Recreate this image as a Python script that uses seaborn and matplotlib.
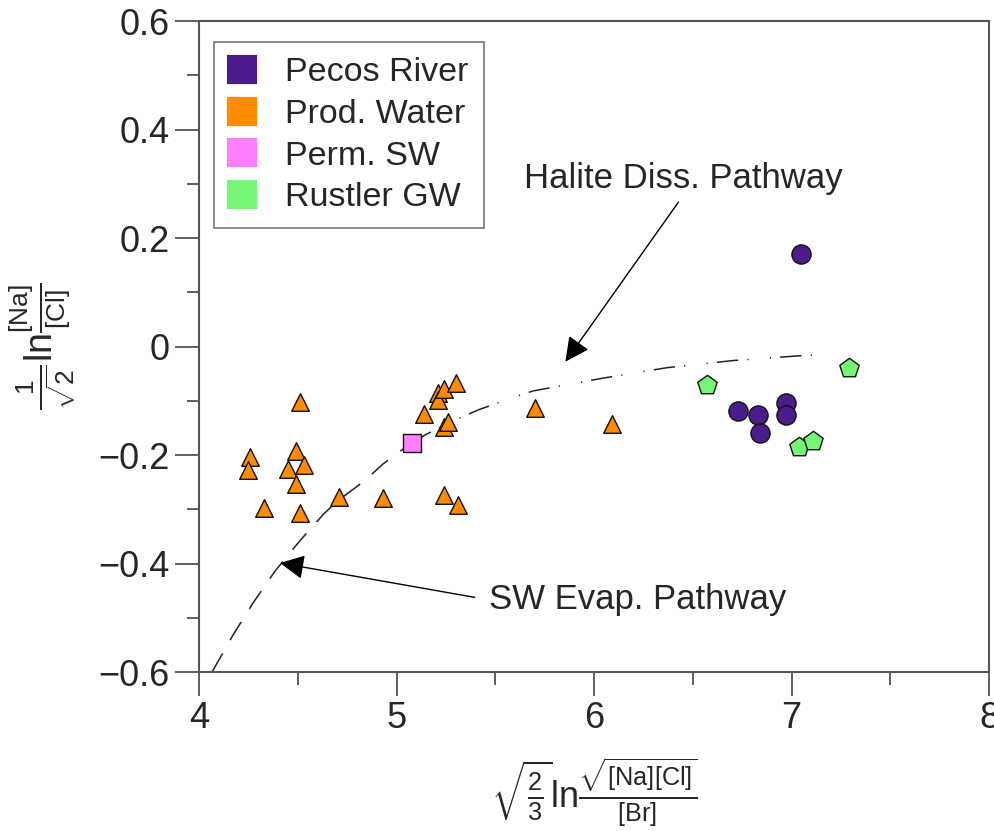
import numpy as np
import pandas as pd
import matplotlib
matplotlib.use("Agg")
import matplotlib.pyplot as plt
import matplotlib.patches as mpatches
import seaborn as sns

# Dati
pecos_x = [7.05, 6.73, 6.83, 6.84, 6.97, 6.97]
pecos_y = [0.170, -0.118, -0.126, -0.159, -0.105, -0.126]

prod_x = [4.51, 4.26, 4.25, 4.49, 4.45, 4.53, 4.49, 4.33, 4.51, 4.71, 4.93, 5.24, 5.31,
          5.14, 5.24, 5.26, 5.21, 5.21, 5.24, 5.30, 5.70, 6.09]
prod_y = [-0.102, -0.203, -0.227, -0.192, -0.225, -0.218, -0.253, -0.297, -0.306, -0.277,
          -0.279, -0.273, -0.292, -0.124, -0.148, -0.140, -0.085, -0.098, -0.079, -0.068,
          -0.114, -0.142]

perm_x = [5.08]
perm_y = [-0.177]

rustler_x = [6.57, 7.29, 7.04, 7.11]
rustler_y = [-0.070, -0.039, -0.185, -0.175]

# percorsi (curve)
evap_x = [4.066, 4.172, 4.273, 4.385, 4.511, 4.628, 4.70, 4.84, 4.93, 5.03, 5.08]
evap_y = [-0.600, -0.532, -0.473, -0.414, -0.358, -0.310, -0.285, -0.247, -0.217, -0.190, -0.177]
diss_x = [5.08, 5.15, 5.31, 5.42, 5.59, 5.69, 6.05, 6.37, 6.70, 7.08, 7.13]
diss_y = [-0.177, -0.162, -0.133, -0.116, -0.094, -0.082, -0.058, -0.039, -0.026, -0.016, -0.015]

groups = ["Pecos River", "Prod. Water", "Perm. SW", "Rustler GW"]
colors = {"Pecos River": "#4B1C8C", "Prod. Water": "#FF8C00",
          "Perm. SW": "#FF80FF", "Rustler GW": "#77F577"}
markers = {"Pecos River": "o", "Prod. Water": "^", "Perm. SW": "s", "Rustler GW": "p"}
sizes = {"Pecos River": 190, "Prod. Water": 160, "Perm. SW": 170, "Rustler GW": 215}

df = pd.concat([
    pd.DataFrame({"x": prod_x, "y": prod_y, "group": "Prod. Water"}),
    pd.DataFrame({"x": perm_x, "y": perm_y, "group": "Perm. SW"}),
    pd.DataFrame({"x": pecos_x, "y": pecos_y, "group": "Pecos River"}),
    pd.DataFrame({"x": rustler_x, "y": rustler_y, "group": "Rustler GW"}),
], ignore_index=True)

sns.set_style("ticks")
plt.rcParams["font.family"] = ["Liberation Sans", "DejaVu Sans"]
plt.rcParams["mathtext.fontset"] = "custom"
plt.rcParams["mathtext.rm"] = "Liberation Sans"
plt.rcParams["mathtext.it"] = "Liberation Sans:italic"
plt.rcParams["mathtext.bf"] = "Liberation Sans:bold"

fig = plt.figure(figsize=(9.95, 8.31), dpi=100)
ax = fig.add_axes([0.2, 0.1913, 0.794, 0.7834])

# curve dei percorsi
ax.plot(evap_x, evap_y, color="#222222", lw=1.1, ls=(0, (14, 10)), zorder=1)
ax.plot(diss_x, diss_y, color="#222222", lw=1.1,
        ls=(0, (14, 6, 0.8, 14, 0.8, 6)), zorder=1)

for g in ["Prod. Water", "Perm. SW", "Pecos River", "Rustler GW"]:
    sub = df[df["group"] == g]
    sns.scatterplot(data=sub, x="x", y="y", ax=ax, color=colors[g], marker=markers[g],
                    s=sizes[g], edgecolor="#111111", linewidth=1.0, zorder=3, legend=False)

# annotazioni
ax.annotate("Halite Diss. Pathway", xy=(5.855, -0.028), xytext=(5.645, 0.309),
            fontsize=25, va="center", ha="left",
            arrowprops=dict(arrowstyle="-|>,head_length=0.6,head_width=0.3",
                            color="black", lw=1.0, shrinkA=3, shrinkB=0,
                            relpos=(0.5, 0)))
ax.annotate("SW Evap. Pathway", xy=(4.41, -0.399), xytext=(5.468, -0.467),
            fontsize=25, va="center", ha="left",
            arrowprops=dict(arrowstyle="-|>,head_length=0.6,head_width=0.3",
                            color="black", lw=1.0, shrinkA=8, shrinkB=0,
                            relpos=(0, 0.5)))

ax.set_xlim(4, 8)
ax.set_ylim(-0.6, 0.6)
ax.set_xticks([4, 5, 6, 7, 8])
ax.set_xticks(np.arange(4, 8.01, 0.5), minor=True)
ax.set_yticks([-0.6, -0.4, -0.2, 0, 0.2, 0.4, 0.6])
ax.set_yticks(np.arange(-0.6, 0.61, 0.1), minor=True)
ax.set_yticklabels(["\u22120.6", "\u22120.4", "\u22120.2", "0", "0.2", "0.4", "0.6"])
ax.tick_params(which="major", direction="out", length=17, width=1.2, labelsize=26,
               color="#444444", pad=4)
ax.tick_params(which="minor", direction="out", length=9, width=1.2, color="#444444")
for sp in ax.spines.values():
    sp.set_visible(True)
    sp.set_color("#555555")
    sp.set_linewidth(1.5)

ax.set_xlabel(r"$\sqrt{\frac{2}{3}}\mathrm{ln}\frac{\sqrt{[\mathrm{Na}][\mathrm{Cl}]}}{[\mathrm{Br}]}$",
              fontsize=26, va="top")
ax.xaxis.set_label_coords(0.5, -0.13)
ax.set_ylabel(r"$\frac{1}{\sqrt{2}}\mathrm{ln}\frac{[\mathrm{Na}]}{[\mathrm{Cl}]}$",
              fontsize=27)
ax.yaxis.set_label_coords(-0.153, 0.5)

handles = [mpatches.Patch(facecolor=colors[g], edgecolor=colors[g], linewidth=3,
                          joinstyle="round", label=g) for g in groups]
leg = ax.legend(handles=handles, loc="upper left", bbox_to_anchor=(0.019, 0.968),
                borderaxespad=0, fontsize=24.5, frameon=True, fancybox=False,
                handlelength=0.75, handleheight=0.75, handletextpad=0.9,
                labelspacing=0.3, borderpad=0.45)
leg.get_frame().set_edgecolor("#555555")
leg.get_frame().set_linewidth(1.2)

fig.savefig("out.png", dpi=100)
